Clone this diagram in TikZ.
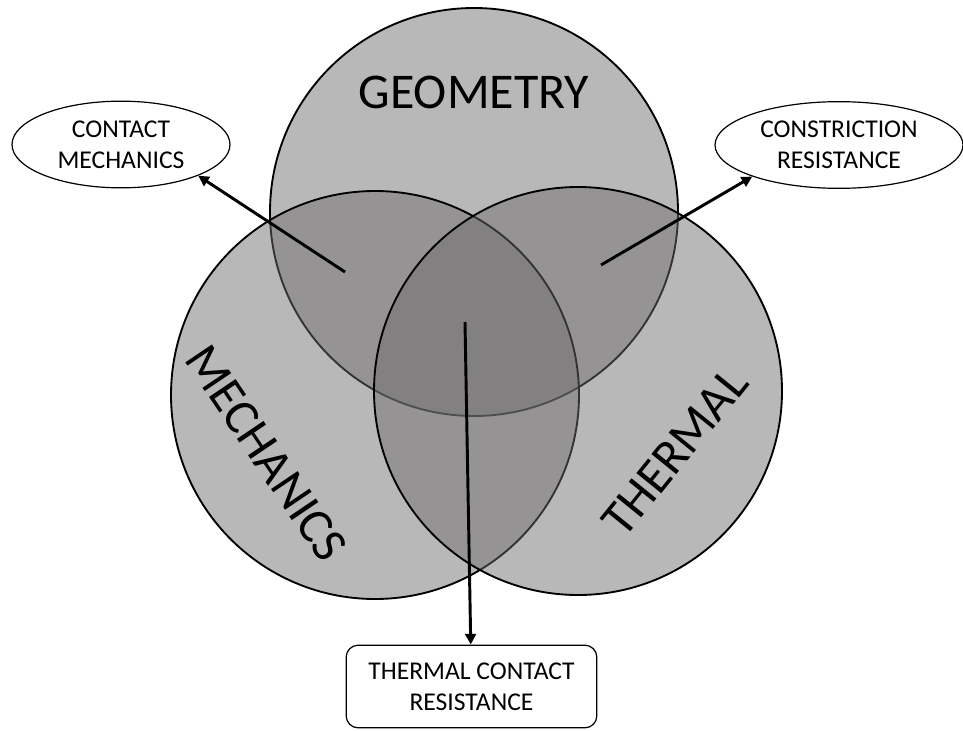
\documentclass[tikz,border=0pt]{standalone}
\usepackage{fontspec}
\setmainfont{Carlito}
\usetikzlibrary{arrows.meta,shapes.geometric,positioning}

\definecolor{kreisgrau}{RGB}{110,108,108}

\tikzset{
  kreis/.style={draw=black, line width=1.4pt, fill=kreisgrau, fill opacity=0.48},
  gross/.style={font=\fontsize{37.5}{40}\selectfont, inner sep=0pt},
  oval/.style={ellipse, draw=black, line width=0.9pt, fill=white, align=center,
    inner sep=0pt, font=\fontsize{19.2}{23.3}\selectfont},
  kasten/.style={rectangle, rounded corners=9pt, draw=black, line width=0.9pt,
    fill=white, align=center, inner sep=0pt, font=\fontsize{19.2}{23.3}\selectfont},
  pfeil/.style={line width=2.2pt, -{Triangle[length=8pt,width=8pt]}}
}

\begin{document}
\begin{tikzpicture}[x=0.75pt, y=-0.75pt]

                  % Rahmen
                  \useasboundingbox (0,0) rectangle (963,731);
                  \fill[white] (0,0) rectangle (963,731);

                  % Mittelpunkte der Kreise
                  \coordinate (geo) at (474,212);
                  \coordinate (mech) at (375,395);
                  \coordinate (therm) at (578,391);

                  % Kreise
                  \draw[kreis] (geo) circle[radius=153pt];
                  \draw[kreis] (mech) circle[radius=153pt];
                  \draw[kreis] (therm) circle[radius=153pt];

                  % Beschriftungen der Kreise
                  \node[gross] (geotext) at (474,92) {GEOMETRY};
                  \node[gross, rotate=-56] (mechtext) at (266,453) {MECHANICS};
                  \node[gross, rotate=51] (thermtext) at (675,452) {THERMAL};

                  % Ovale und Kasten
                  \node[oval, minimum width=163.5pt, minimum height=65pt] (cm) at (121,144.5) {CONTACT\\MECHANICS};
                  \node[oval, minimum width=186pt, minimum height=65pt] (cr) at (839,145) {CONSTRICTION\\RESISTANCE};
                  \node[kasten, minimum width=188pt, minimum height=62pt] (tcr) at (471.5,686.5) {THERMAL CONTACT\\RESISTANCE};

                  % Pfeile
                  \coordinate (cmstart) at (345,272);
                  \coordinate (crstart) at (601,265);
                  \coordinate (tcrstart) at (465,322);
                  \draw[pfeil] (cmstart) -- (cm.-22);
                  \draw[pfeil] (crstart) -- (cr.200);
                  \draw[pfeil] (tcrstart) -- (tcr);
              \end{tikzpicture}
\end{document}
